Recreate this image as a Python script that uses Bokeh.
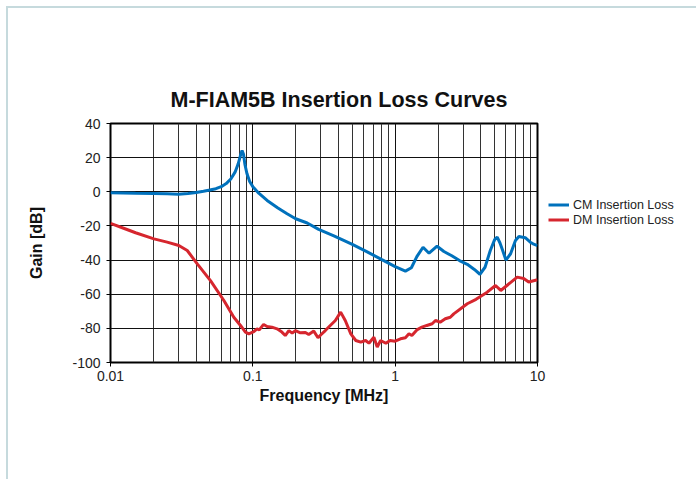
from bokeh.plotting import figure
from bokeh.models import (ColumnDataSource, FixedTicker, Legend, LegendItem, Title)
from bokeh.embed import file_html
from bokeh.resources import INLINE

# ---------------- data ----------------
cm_freq = [0.01, 0.015, 0.02, 0.025, 0.03, 0.035, 0.04, 0.045, 0.05, 0.055,
           0.06, 0.065, 0.07, 0.075, 0.079, 0.082, 0.084, 0.086, 0.088, 0.091,
           0.095, 0.1, 0.11, 0.126, 0.15, 0.174, 0.2, 0.241, 0.29, 0.371,
           0.5, 0.636, 0.8, 1.0, 1.18, 1.3, 1.42, 1.57, 1.73, 1.97,
           2.2, 2.5, 2.83, 3.21, 3.6, 3.94, 4.28, 4.66, 5.0, 5.21,
           5.45, 5.67, 6.0, 6.47, 7.0, 7.4, 8.2, 8.9, 9.3, 10.0]
cm_gain = [-0.5, -0.8, -1.0, -1.2, -1.4, -1.0, -0.4, 0.3, 1.0, 1.8,
           3.0, 4.8, 7.5, 11.5, 16.5, 21.5, 24.2, 22.0, 16.0, 10.5,
           6.0, 3.0, -0.8, -5.1, -9.5, -12.9, -15.8, -18.3, -22.0, -25.8,
           -30.8, -35.2, -39.6, -43.8, -46.5, -44.5, -38.0, -32.5, -36.0, -31.9,
           -35.0, -37.5, -40.3, -42.5, -45.5, -48.3, -44.2, -34.4, -28.0, -26.6,
           -30.0, -34.0, -40.0, -36.3, -28.5, -26.2, -26.9, -29.5, -30.5, -31.5]

dm_freq = [0.01, 0.0125, 0.015, 0.0202, 0.025, 0.0302, 0.0346, 0.0407, 0.0504, 0.0626,
           0.0735, 0.0819, 0.0887, 0.0937, 0.1016, 0.107, 0.111, 0.119, 0.126, 0.136,
           0.148, 0.16, 0.169, 0.179, 0.189, 0.199, 0.216, 0.234, 0.247, 0.268,
           0.287, 0.302, 0.323, 0.35, 0.38, 0.414, 0.446, 0.488, 0.529, 0.573,
           0.62, 0.654, 0.709, 0.748, 0.79, 0.86, 0.92, 1.0, 1.09, 1.18,
           1.25, 1.31, 1.42, 1.54, 1.67, 1.82, 1.92, 2.07, 2.25, 2.44,
           2.58, 3.21, 3.7, 4.43, 5.07, 5.52, 6.1, 7.2, 8.0, 8.67, 10.0]
dm_gain = [-18.5, -21.5, -24.0, -27.6, -29.5, -31.5, -34.4, -42.2, -52.0, -63.7,
           -73.5, -78.3, -82.2, -83.2, -81.9, -80.3, -80.9, -77.7, -78.9, -79.3,
           -80.3, -82.2, -84.2, -81.3, -82.8, -81.3, -82.6, -82.4, -83.6, -81.6,
           -85.5, -83.6, -81.3, -78.3, -75.4, -70.5, -75.4, -83.2, -87.1, -88.1,
           -87.1, -88.7, -85.2, -91.0, -87.1, -88.7, -87.1, -87.5, -86.1, -85.5,
           -83.2, -84.2, -80.9, -79.3, -78.3, -77.3, -75.4, -76.4, -74.4, -73.5,
           -71.5, -65.6, -63.0, -58.8, -54.9, -57.8, -54.9, -50.0, -50.8, -52.8, -51.5]

series_names = ["CM Insertion Loss", "DM Insertion Loss"]
x_tick_values = [0.01, 0.1, 1, 10]
x_tick_labels = ["0.01", "0.1", "1", "10"]
y_tick_values = [-100, -80, -60, -40, -20, 0, 20, 40]
y_tick_labels = ["-100", "-80", "-60", "-40", "-20", "0", "20", "40"]

title_text = "M-FIAM5B Insertion Loss Curves"
x_label = "Frequency [MHz]"
y_label = "Gain [dB]"

# ---------------- styling ----------------
FONT = "Liberation Sans"
BLUE = "#0071bc"
RED = "#d6262e"

p = figure(frame_width=427, frame_height=239, x_axis_type="log",
           x_range=(0.01, 10), y_range=(-100, 40),
           output_backend="svg", toolbar_location=None,
           min_border_left=102, min_border_right=157,
           min_border_top=115, min_border_bottom=117,
           background_fill_color="white", border_fill_color="white",
           styles={"margin-top": "6px", "margin-left": "6px",
                   "border-top": "2px solid #c6dadd",
                   "border-left": "2px solid #c6dadd"})

p.title = Title(text=title_text, align="left", offset=60, standoff=24,
                text_font=FONT, text_font_size="21.5px", text_font_style="bold",
                text_color="#111111")

p.outline_line_color = "black"
p.outline_line_width = 2

minor_x = [m * 10.0 ** e for e in (-2, -1, 0) for m in range(2, 10)]
xticker = FixedTicker(ticks=x_tick_values, minor_ticks=minor_x)
p.xaxis.ticker = xticker
p.xgrid.ticker = xticker
p.xaxis.major_label_overrides = dict(zip(x_tick_values, x_tick_labels))
yticker = FixedTicker(ticks=y_tick_values)
p.yaxis.ticker = yticker
p.ygrid.ticker = yticker
p.yaxis.major_label_overrides = dict(zip(y_tick_values, y_tick_labels))

for ax in (p.xaxis, p.yaxis):
    ax.axis_line_color = None
    ax.major_tick_out = 4
    ax.major_tick_in = 0
    ax.minor_tick_out = 0
    ax.minor_tick_in = 0
    ax.major_tick_line_color = "black"
    ax.major_label_text_font = FONT
    ax.major_label_text_font_size = "14px"
    ax.major_label_text_color = "#222222"
    ax.axis_label_text_font = FONT
    ax.axis_label_text_font_size = "16px"
    ax.axis_label_text_font_style = "bold"
    ax.axis_label_text_color = "#111111"

p.xaxis.axis_label = x_label
p.yaxis.axis_label = y_label
p.xaxis.major_label_standoff = 4
p.xaxis.axis_label_standoff = 3
p.yaxis.major_label_standoff = 6
p.yaxis.axis_label_standoff = 24

p.xgrid.grid_line_color = "#111111"
p.xgrid.grid_line_width = 1
p.xgrid.minor_grid_line_color = "#333333"
p.xgrid.minor_grid_line_width = 1
p.ygrid.grid_line_color = "#111111"
p.ygrid.grid_line_width = 1

cm_src = ColumnDataSource(dict(f=cm_freq, g=cm_gain))
dm_src = ColumnDataSource(dict(f=dm_freq, g=dm_gain))
r_cm = p.line("f", "g", source=cm_src, line_color=BLUE, line_width=3)
r_dm = p.line("f", "g", source=dm_src, line_color=RED, line_width=3)

legend = Legend(items=[LegendItem(label=series_names[0], renderers=[r_cm]),
                       LegendItem(label=series_names[1], renderers=[r_dm])],
                location="top_left", orientation="vertical",
                title=" ", title_text_font_size="1px", title_standoff=62,
                glyph_width=21, glyph_height=15, label_height=15,
                label_standoff=4, spacing=0, padding=0, margin=11,
                label_text_font=FONT, label_text_font_size="12.5px",
                label_text_color="#222222",
                background_fill_alpha=0, border_line_alpha=0)
p.add_layout(legend, "right")

open("out.html", "w").write(file_html(p, INLINE))
